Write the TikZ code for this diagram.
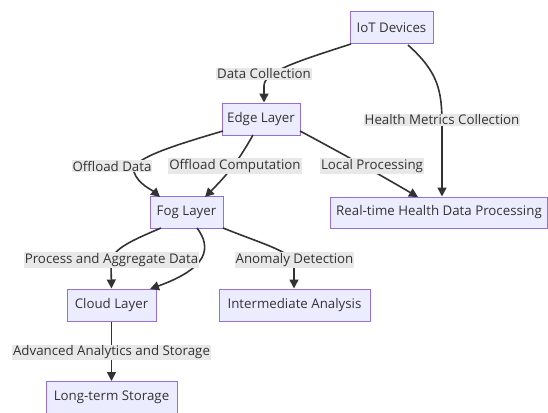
\documentclass[tikz,border=0pt]{standalone}
\usepackage{fontspec}
\setmainfont{Open Sans}
\usetikzlibrary{arrows.meta}
\definecolor{boxfill}{HTML}{ECECFF}
\definecolor{boxline}{HTML}{9370DB}
\definecolor{lblfill}{HTML}{E8E8E8}
\definecolor{edgecol}{HTML}{333333}
\tikzset{
  box/.style={draw=boxline, fill=boxfill, line width=1pt, inner xsep=0pt,
    minimum height=32pt, font=\fontsize{13.3}{15}\selectfont, text=edgecol},
  lbl/.style={fill=lblfill, inner xsep=1pt, inner ysep=1pt,
    font=\fontsize{13.3}{15}\selectfont, text=edgecol},
  flow/.style={draw=edgecol, line width=1.6pt,
    -{Triangle[length=9pt,width=9pt]}},
}
\begin{document}
\begin{tikzpicture}[x=1pt,y=-1pt]
\useasboundingbox (0,0) rectangle (548,412);

% nodes
\node[box, minimum width=83pt] (iot) at (391.5,28) {IoT Devices};
\node[box, minimum width=78pt] (edge) at (261,119) {Edge Layer};
\node[box, minimum width=73pt] (fog) at (186.5,212.5) {Fog Layer};
\node[box, minimum width=217pt, minimum height=31pt] (rt) at (439,212.5) {Real-time Health Data Processing};
\node[box, minimum width=89pt] (cloud) at (111.5,305) {Cloud Layer};
\node[box, minimum width=151pt] (inter) at (294.5,305) {Intermediate Analysis};
\node[box, minimum width=131pt] (lts) at (111.5,397.5) {Long-term Storage};

% connectors
\coordinate (a1) at (351,44);
\draw[flow] (a1) .. controls (295,62) and (264,72) .. (264,86) -- (edge.north -| 264,0);
\coordinate (b1) at (408,45);
\draw[flow] (b1) .. controls (438,72) and (442,90) .. (442,125) -- (rt.north -| 442,0);
\coordinate (c1) at (223,131);
\coordinate (c2) at (160,197);
\draw[flow] (c1) .. controls (165,148) and (130,160) .. (134,172) .. controls (138,184) and (152,190) .. (c2);
\coordinate (d1) at (253,135);
\coordinate (d2) at (205,197);
\draw[flow] (d1) .. controls (240,158) and (230,172) .. (d2);
\coordinate (e1) at (300,131);
\coordinate (e2) at (418,197);
\draw[flow] (e1) .. controls (345,155) and (375,172) .. (e2);
\coordinate (f1) at (161,228);
\draw[flow] (f1) .. controls (128,242) and (111,250) .. (111,264) -- (cloud.north);
\coordinate (g1) at (197,228);
\coordinate (g2) at (150,289);
\draw[flow] (g1) .. controls (212,248) and (208,268) .. (g2);
\coordinate (h1) at (223,228);
\draw[flow] (h1) .. controls (268,246) and (294,252) .. (294,266) -- (inter.north -| 294,0);
\draw[flow] (cloud.south) -- (lts.north);

% connector labels
\node[lbl] (l1) at (264,74) {Data Collection};
\node[lbl] (l2) at (442,120) {Health Metrics Collection};
\node[lbl] (l3) at (112,166) {Offload Data};
\node[lbl] (l4) at (235,166) {Offload Computation};
\node[lbl] (l5) at (372,166) {Local Processing};
\node[lbl] (l6) at (111.5,260) {Process and Aggregate Data};
\node[lbl] (l7) at (294.5,260) {Anomaly Detection};
\node[lbl] (l8) at (111.5,352.5) {Advanced Analytics and Storage};
\end{tikzpicture}
\end{document}
